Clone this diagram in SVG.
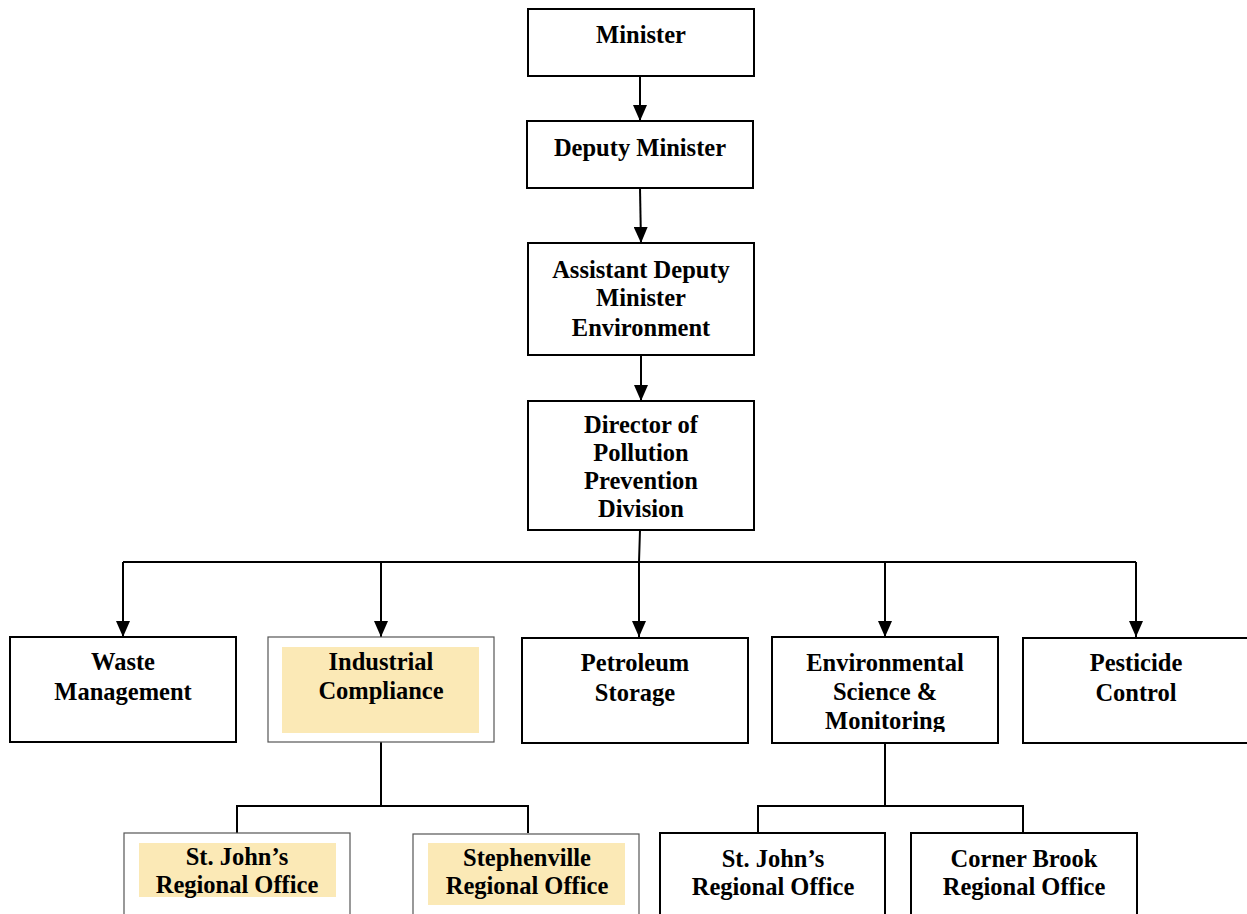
<svg xmlns="http://www.w3.org/2000/svg" width="1247" height="914" viewBox="0 0 1247 914">
<defs>
<style>
.box{fill:#fff;stroke:#000;stroke-width:2}
.tbox{fill:#fff;stroke:#555;stroke-width:1.2}
.hl{fill:#fbe9b6;stroke:none}
.t{font-family:"Liberation Serif","Times New Roman",serif;font-weight:bold;font-size:24.5px;fill:#000;text-anchor:middle}
.ln{fill:none;stroke:#000;stroke-width:2}
</style>
<marker id="ah" markerWidth="16" markerHeight="14" refX="16" refY="7" orient="auto" markerUnits="userSpaceOnUse" viewBox="0 0 16 14">
<path d="M0,0 L16,7 L0,14 Z" fill="#000"/>
</marker>
<clipPath id="envclip"><rect x="772" y="637" width="226" height="95"/></clipPath>
</defs>
<rect width="1247" height="914" fill="#fff"/>

<g id="connectors">
<line class="ln" x1="640" y1="76" x2="640" y2="121" marker-end="url(#ah)"/>
<line class="ln" x1="640" y1="188" x2="641" y2="243" marker-end="url(#ah)"/>
<line class="ln" x1="641" y1="355" x2="641" y2="401" marker-end="url(#ah)"/>
<polyline class="ln" points="640,530 639,562"/>
<polyline class="ln" points="123,562 1136,562"/>
<line class="ln" x1="123" y1="562" x2="123" y2="637" marker-end="url(#ah)"/>
<line class="ln" x1="381" y1="562" x2="381" y2="637" marker-end="url(#ah)"/>
<line class="ln" x1="639" y1="562" x2="639" y2="637" marker-end="url(#ah)"/>
<line class="ln" x1="885" y1="562" x2="885" y2="637" marker-end="url(#ah)"/>
<line class="ln" x1="1136" y1="562" x2="1136" y2="637" marker-end="url(#ah)"/>
<polyline class="ln" points="381,742 381,806"/>
<polyline class="ln" points="237,833 237,806 528,806 528,833"/>
<polyline class="ln" points="885,743 885,806"/>
<polyline class="ln" points="758,833 758,806 1023,806 1023,833"/>
</g>

<g id="minister">
<rect class="box" x="528" y="9" width="226" height="67"/>
<text class="t" x="641" y="43">Minister</text>
</g>
<g id="deputy">
<rect class="box" x="527" y="121" width="226" height="67"/>
<text class="t" x="640" y="156">Deputy Minister</text>
</g>
<g id="adm">
<rect class="box" x="528" y="243" width="226" height="112"/>
<text class="t" x="641" y="278">Assistant Deputy</text>
<text class="t" x="641" y="306">Minister</text>
<text class="t" x="641" y="336">Environment</text>
</g>
<g id="director">
<rect class="box" x="528" y="401" width="226" height="129"/>
<text class="t" x="641" y="433">Director of</text>
<text class="t" x="641" y="461">Pollution</text>
<text class="t" x="641" y="489">Prevention</text>
<text class="t" x="641" y="517">Division</text>
</g>

<g id="waste">
<rect class="box" x="10" y="637" width="226" height="105"/>
<text class="t" x="123" y="670">Waste</text>
<text class="t" x="123" y="700">Management</text>
</g>
<g id="industrial">
<rect class="tbox" x="268" y="637" width="226" height="105"/>
<rect class="hl" x="282" y="647" width="197" height="86"/>
<text class="t" x="381" y="670">Industrial</text>
<text class="t" x="381" y="699">Compliance</text>
</g>
<g id="petroleum">
<rect class="box" x="522" y="638" width="226" height="105"/>
<text class="t" x="635" y="671">Petroleum</text>
<text class="t" x="635" y="701">Storage</text>
</g>
<g id="envsci">
<rect class="box" x="772" y="637" width="226" height="106"/>
<g clip-path="url(#envclip)">
<text class="t" x="885" y="671">Environmental</text>
<text class="t" x="885" y="700">Science &amp;</text>
<text class="t" x="885" y="729">Monitoring</text>
</g>
</g>
<g id="pesticide">
<rect class="box" x="1023" y="638" width="226" height="105"/>
<text class="t" x="1136" y="671">Pesticide</text>
<text class="t" x="1136" y="701">Control</text>
</g>

<g id="stjohns-ic">
<rect class="tbox" x="124" y="833" width="226" height="90"/>
<rect class="hl" x="139" y="843" width="197" height="54"/>
<text class="t" x="237" y="865">St. John’s</text>
<text class="t" x="237" y="893">Regional Office</text>
</g>
<g id="stephenville">
<rect class="tbox" x="413" y="834" width="226" height="90"/>
<rect class="hl" x="428" y="843" width="197" height="62"/>
<text class="t" x="527" y="866">Stephenville</text>
<text class="t" x="527" y="894">Regional Office</text>
</g>
<g id="stjohns-env">
<rect class="box" x="660" y="833" width="225" height="90"/>
<text class="t" x="773" y="867">St. John’s</text>
<text class="t" x="773" y="895">Regional Office</text>
</g>
<g id="cornerbrook">
<rect class="box" x="911" y="833" width="226" height="90"/>
<text class="t" x="1024" y="867">Corner Brook</text>
<text class="t" x="1024" y="895">Regional Office</text>
</g>
</svg>
